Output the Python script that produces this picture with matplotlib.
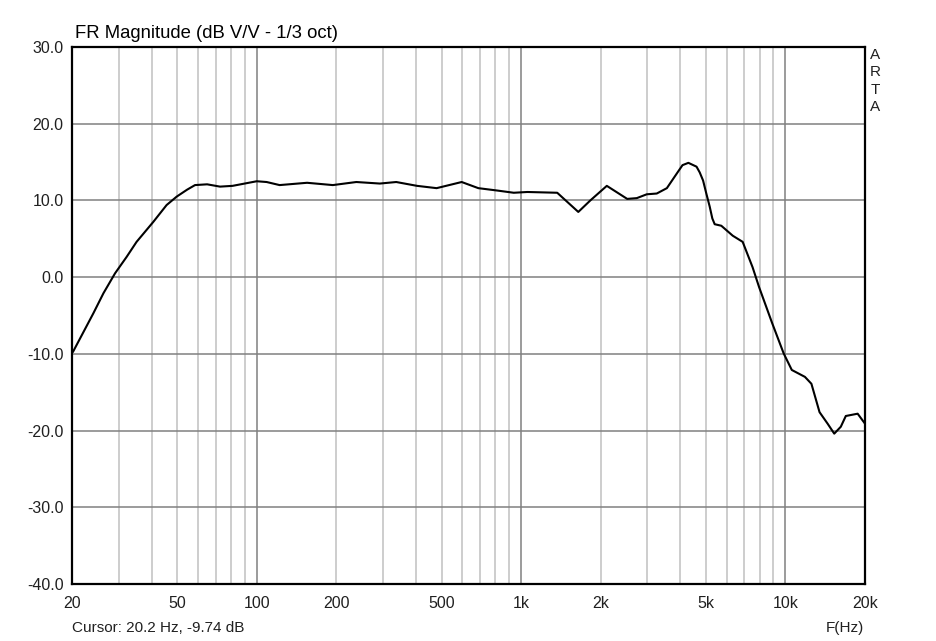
import numpy as np
import matplotlib.pyplot as plt
from matplotlib.ticker import FixedLocator, NullFormatter, NullLocator

# frekuensi (Hz) dan magnitude (dB)
freq = [20.2, 24.1, 26.3, 29.1, 32.2, 35.1, 40.6, 45.6, 49.8, 54.5, 58.4, 64.9,
        72.6, 81, 100, 109, 122, 155, 194, 238, 292, 337, 404, 479, 596, 689,
        808, 938, 1056, 1370, 1646, 1828, 2110, 2520, 2740, 2988, 3260, 3560,
        3880, 4080, 4294, 4610, 4740, 4880, 5020, 5170, 5290, 5400, 5720, 6320,
        6890, 7510, 7950, 8910, 9850, 10570, 11850, 12540, 13460, 14440, 15300,
        16200, 16920, 18760, 20000]
mag = [-9.7, -4.7, -2.1, 0.5, 2.65, 4.6, 7.2, 9.4, 10.5, 11.4, 12.0, 12.1, 11.8,
       11.9, 12.5, 12.4, 12.0, 12.3, 12.0, 12.4, 12.2, 12.4, 11.9, 11.6, 12.4,
       11.6, 11.3, 11.0, 11.1, 11.0, 8.5, 10.0, 11.9, 10.2, 10.3, 10.8, 10.9,
       11.6, 13.5, 14.6, 14.9, 14.4, 13.65, 12.6, 10.9, 9.2, 7.65, 6.9, 6.7,
       5.4, 4.6, 1.3, -1.3, -6.0, -9.95, -12.1, -13.0, -13.9, -17.6, -19.1,
       -20.4, -19.5, -18.1, -17.8, -19.1]

x_ticks = [20, 50, 100, 200, 500, 1000, 2000, 5000, 10000, 20000]
x_labels = ['20', '50', '100', '200', '500', '1k', '2k', '5k', '10k', '20k']
y_ticks = [-40, -30, -20, -10, 0, 10, 20, 30]

plt.rcParams['font.family'] = ['Liberation Sans', 'DejaVu Sans']

fig = plt.figure(figsize=(9.37, 6.41), dpi=100)
ax = fig.add_axes([72 / 937, 1 - 584 / 641, 793 / 937, 537 / 641])

ax.set_xscale('log')
ax.set_xlim(20, 20000)
ax.set_ylim(-40, 30)

# garis grid: mayor (dekade) gelap, minor terang
minor = [m * d for d in (10, 100, 1000) for m in range(2, 10)]
minor = [v for v in minor if 20 < v < 20000 and v not in (100, 1000, 10000)]
for v in minor:
    ax.axvline(v, color='#c0c0c0', lw=1.1, zorder=1)
for v in (100, 1000, 10000):
    ax.axvline(v, color='#808080', lw=1.1, zorder=1)
for v in y_ticks[1:-1]:
    ax.axhline(v, color='#808080', lw=1.1, zorder=1)

ax.plot(freq, mag, color='black', lw=1.5, zorder=3)

ax.xaxis.set_major_locator(FixedLocator(x_ticks))
ax.xaxis.set_minor_locator(NullLocator())
ax.xaxis.set_minor_formatter(NullFormatter())
ax.set_xticklabels(x_labels)
ax.set_yticks(y_ticks)
ax.set_yticklabels([f'{v:.1f}' for v in y_ticks])
ax.tick_params(length=0, labelsize=11.5, colors='#202020', pad=6)
ax.tick_params(axis='x', pad=9)
for s in ax.spines.values():
    s.set_linewidth(1.6)
    s.set_color('black')

fig.text(75 / 937, 1 - 33 / 641, 'FR Magnitude (dB V/V - 1/3 oct)', fontsize=13.3,
         va='center', ha='left')
for i, ch in enumerate('ARTA'):
    fig.text(875 / 937, 1 - (55 + i * 17.3) / 641, ch, fontsize=11,
             ha='center', va='center', color='#202020')
fig.text(72 / 937, 1 - 628 / 641, 'Cursor: 20.2 Hz, -9.74 dB', fontsize=11,
         ha='left', va='center', color='#202020')
fig.text(845 / 937, 1 - 628 / 641, 'F(Hz)', fontsize=11, ha='center',
         va='center', color='#202020')

fig.savefig('out.png', dpi=100)
